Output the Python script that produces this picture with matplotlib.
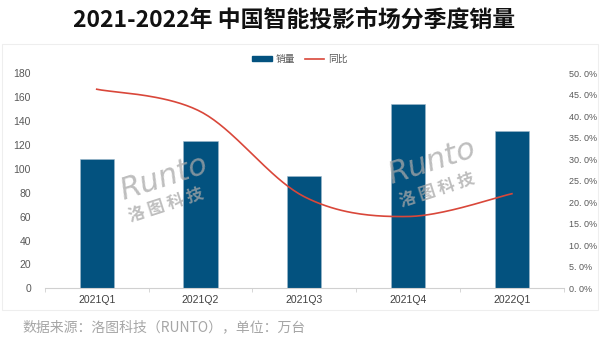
import numpy as np
import matplotlib
matplotlib.use("Agg")
import matplotlib.pyplot as plt
from matplotlib.patches import Rectangle
from matplotlib.lines import Line2D
from matplotlib.patches import Patch

plt.rcParams['font.family'] = ['Noto Sans CJK SC', 'DejaVu Sans']

categories = ["2021Q1", "2021Q2", "2021Q3", "2021Q4", "2022Q1"]
sales = [108, 123, 94, 154, 132]
yoy = [46.3, 41.1, 21.3, 16.7, 22.0]
left_ticks = [0, 20, 40, 60, 80, 100, 120, 140, 160, 180]
right_ticks = [0, 5, 10, 15, 20, 25, 30, 35, 40, 45, 50]

BLUE = "#03527f"
RED = "#d9473a"
GRAY = "#595959"
NARROW = ['Liberation Sans Narrow', 'Liberation Sans', 'DejaVu Sans']

fig = plt.figure(figsize=(6.0, 3.41), dpi=100)
fig.patches.append(Rectangle((0.004, 0.09), 0.992, 0.78, transform=fig.transFigure,
                             fill=False, edgecolor="#eeeeee", linewidth=0.8))

ax = fig.add_axes([0.0747, 0.1545, 0.865, 0.6305])
x = np.arange(len(categories))
ax.bar(x, sales, width=0.33, color=BLUE, edgecolor="#9fb9cc", linewidth=0.4, zorder=2)
ax.set_xlim(-0.5, len(categories) - 0.5)
ax.set_ylim(0, 180)
ax.set_yticks(left_ticks)
ax.tick_params(axis='y', length=0, labelsize=7.5, labelcolor=GRAY, pad=10)
ax.set_xticks(x)
ax.set_xticklabels(categories)
ax.tick_params(axis='x', length=0, labelsize=7.5, labelcolor="#404040", pad=5)
for lab in ax.get_xticklabels() + ax.get_yticklabels():
    lab.set_family(NARROW)
ax.set_xticks(np.arange(-0.5, len(categories) + 0.5, 1), minor=True)
ax.tick_params(axis='x', which='minor', length=3, color="#d0d0d0", width=0.6)
for s in ["top", "right", "left"]:
    ax.spines[s].set_visible(False)
ax.spines["bottom"].set_color("#d0d0d0")
ax.spines["bottom"].set_linewidth(0.8)

ax2 = ax.twinx()
ax2.set_ylim(0, 50)
ax2.set_yticks(right_ticks)
ax2.set_yticklabels([f"{v:.1f}%".replace(".", ". ") for v in right_ticks])
ax2.tick_params(axis='y', length=0, labelsize=6.5, labelcolor=GRAY, pad=4)
for lab in ax2.get_yticklabels():
    lab.set_family(NARROW)
for s in ["top", "right", "left", "bottom"]:
    ax2.spines[s].set_visible(False)

# Smoothed line (Catmull-Rom style rendering, like Excel's smoothed line)
px = x.astype(float)
py = np.array(yoy, dtype=float)
sx, sy = [], []
n = len(px)
for i in range(n - 1):
    p0 = (px[max(i - 1, 0)], py[max(i - 1, 0)])
    p1 = (px[i], py[i])
    p2 = (px[i + 1], py[i + 1])
    p3 = (px[min(i + 2, n - 1)], py[min(i + 2, n - 1)])
    t = np.linspace(0, 1, 40)
    for (a0, a1, a2, a3, out) in [(p0[0], p1[0], p2[0], p3[0], sx), (p0[1], p1[1], p2[1], p3[1], sy)]:
        c1 = a1 + (a2 - a0) / 6
        c2 = a2 - (a3 - a1) / 6
        out.extend(((1 - t) ** 3) * a1 + 3 * ((1 - t) ** 2) * t * c1 + 3 * (1 - t) * t ** 2 * c2 + t ** 3 * a2)
ax2.plot(sx, sy, color=RED, linewidth=1.2, zorder=3)

# Watermarks
for (wx, wy, cx, cy) in [(0.272, 0.478, 0.277, 0.399), (0.72, 0.525, 0.728, 0.443)]:
    fig.text(wx, wy, "Runto", fontsize=22, color="#a8a8a8", alpha=0.75, rotation=18,
             ha="center", va="center", family="DejaVu Sans", fontstyle="italic")
    fig.text(cx, cy, "洛 图 科 技", fontsize=12, color="#a8a8a8", alpha=0.75,
             rotation=18, ha="center", va="center", fontweight="bold")

fig.text(0.49, 0.94, "2021-2022年 中国智能投影市场分季度销量", fontsize=16.5,
         fontweight="bold", ha="center", va="center", color="#111111")

handles = [Patch(facecolor=BLUE, edgecolor=BLUE), Line2D([0], [0], color=RED, lw=1.2)]
fig.legend(handles, ["销量", "同比"], loc="center", bbox_to_anchor=(0.5, 0.827),
           ncol=2, frameon=False, fontsize=7, labelcolor=GRAY, handlelength=2.0,
           handleheight=0.5, columnspacing=1.0, handletextpad=0.4)

fig.text(0.037, 0.041, "数据来源：洛图科技（RUNTO），单位：万台", fontsize=10,
         color="#a6a6a6", ha="left", va="center")

fig.savefig("out.png", dpi=100)
